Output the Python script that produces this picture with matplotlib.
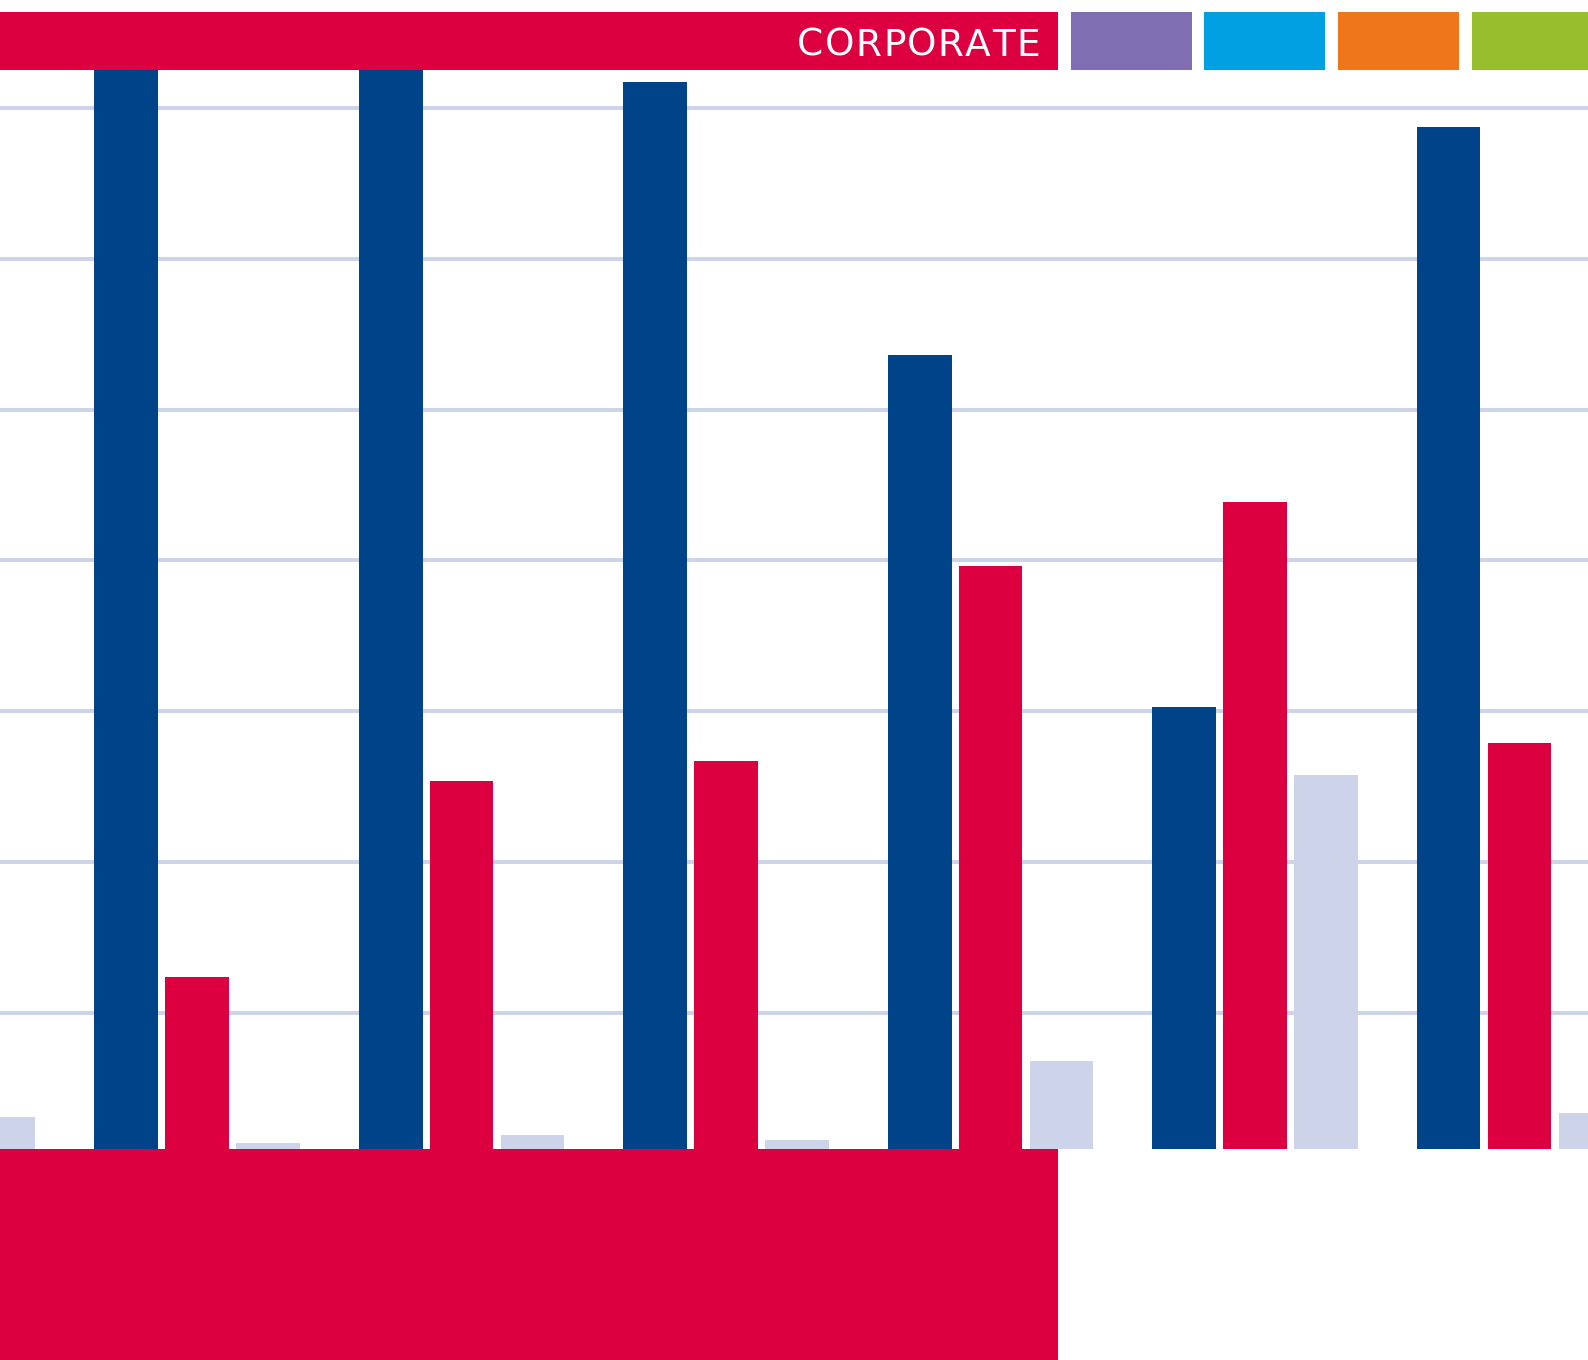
import matplotlib.pyplot as plt
import numpy as np
from matplotlib.patches import Rectangle

# bar values per group (nan = outside the visible window)
groups = np.arange(7)
blue_vals = [np.nan, 80.0, 80.0, 71.7, 53.6, 30.3, 68.7]
red_vals = [np.nan, 12.4, 25.4, 26.7, 39.6, 43.9, 27.9]
grey_vals = [3.1, 1.4, 1.9, 1.6, 6.8, 25.8, 3.4]
grid_vals = [10, 20, 30, 40, 50, 60, 70]

header_label = "CORPORATE"
header_colors = ["#7F6FB2", "#00A0E3", "#EF761B", "#97BE2D"]

BLUE = "#004388"
RED = "#DC0041"
LIGHT = "#CDD3E8"

fig = plt.figure(figsize=(15.88, 13.6), dpi=100)
W, H = 1588, 1360

ax = fig.add_axes([0, (H - 1149) / H, 1, (1149 - 70) / H])
bw = 0.241
step = 0.268
ax.bar(groups - step, blue_vals, width=bw, color=BLUE, zorder=2)
ax.bar(groups, red_vals, width=bw, color=RED, zorder=2)
ax.bar(groups + step, grey_vals, width=bw, color=LIGHT, zorder=2)

for g in grid_vals:
    ax.axhline(g, color=LIGHT, lw=2.9, zorder=1)

ax.set_xlim(0.255, 6.259)
ax.set_ylim(1, 72.5)
ax.set_axis_off()

# header strip
def px_rect(x0, y0, x1, y1, color):
    fig.add_artist(Rectangle((x0 / W, 1 - y1 / H), (x1 - x0) / W, (y1 - y0) / H,
                             transform=fig.transFigure, color=color, lw=0, zorder=5))

px_rect(0, 12, 1058, 70, RED)
tiles = [(1071, 1192), (1204, 1325), (1338, 1459), (1472, 1588)]
for (x0, x1), c in zip(tiles, header_colors):
    px_rect(x0, 12, x1, 70, c)

# letter-spaced label, laid out right to left from its right edge
renderer = fig.canvas.get_renderer()
x = 1040
tracking = 1.4
for ch in reversed(header_label):
    t = fig.text(x / W, 1 - 55.5 / H, ch, color="white", fontsize=27,
                 ha="right", va="baseline", family="DejaVu Sans", zorder=6)
    x -= t.get_window_extent(renderer).width + tracking

# footer block
px_rect(0, 1149, 1058, 1360, RED)

fig.savefig("out.png", dpi=100, facecolor="white")
